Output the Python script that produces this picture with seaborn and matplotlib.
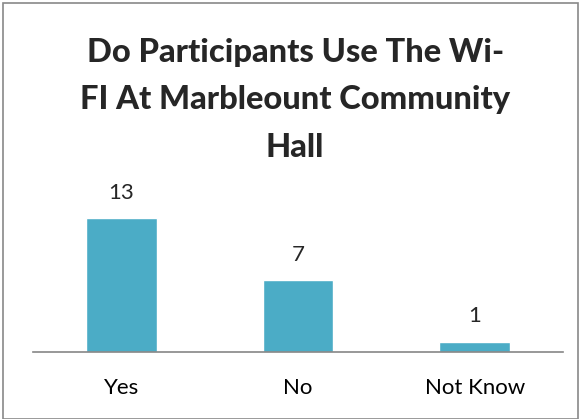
import matplotlib
matplotlib.use("Agg")
import matplotlib.pyplot as plt
import seaborn as sns
import pandas as pd
from matplotlib.patches import Rectangle

# ---------- DATA ----------
CATEGORIES = ["Yes", "No", "Not Know"]
COUNTS = [13, 7, 1]
TITLE = "Do Participants Use The Wi-\nFI At Marbleount Community\nHall"

BAR_COLOR = "#4BACC6"
AXIS_COLOR = "#868686"

sns.set_theme(style="white")
plt.rcParams["font.family"] = ["Lato", "DejaVu Sans"]

df = pd.DataFrame({"answer": CATEGORIES, "count": COUNTS})

fig = plt.figure(figsize=(5.81, 4.19), dpi=100)
ax = fig.add_axes([33 / 581, 67 / 419, 530 / 581, 144 / 419])

sns.barplot(data=df, x="answer", y="count", color=BAR_COLOR, width=0.4,
            saturation=1, ax=ax)

ax.set_ylim(0, 14)
ax.set_xlim(-0.5, 2.5)
ax.set_xlabel("")
ax.set_ylabel("")
ax.set_yticks([])
ax.tick_params(axis="x", length=0, pad=19, labelsize=16, colors="black")
for s in ["top", "right", "left"]:
    ax.spines[s].set_visible(False)
ax.spines["bottom"].set_color(AXIS_COLOR)
ax.spines["bottom"].set_linewidth(1.2)

for i, v in enumerate(COUNTS):
    ax.text(i, v + 1.5, str(v), ha="center", va="bottom", fontsize=16,
            clip_on=False)

fig.text(0.508, 0.91, TITLE, ha="center", va="top", fontsize=23.5,
         fontweight="black", linespacing=1.78)

# chart border
fig.patches.append(Rectangle((3 / 581, 0), 575 / 581, 416 / 419,
                             transform=fig.transFigure, fill=False,
                             edgecolor="#898989", linewidth=1.2))

fig.savefig("out.png", dpi=100)
